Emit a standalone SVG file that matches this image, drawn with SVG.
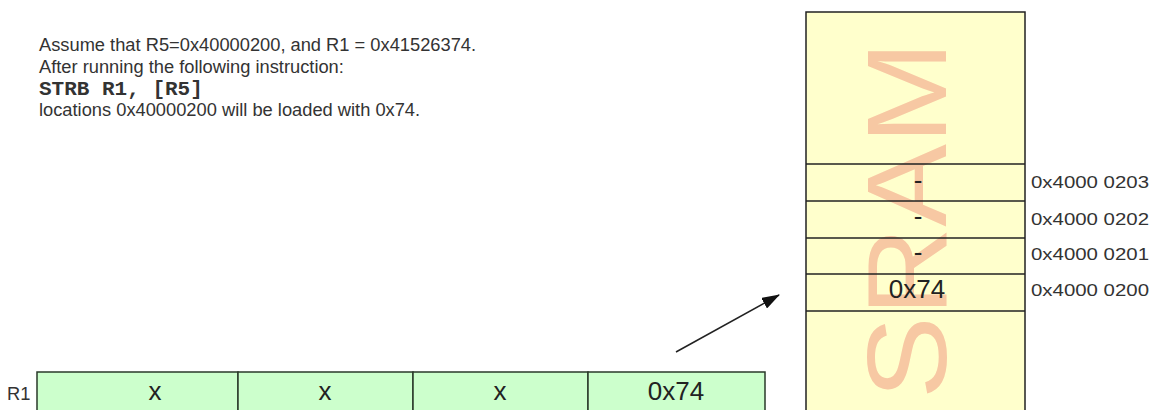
<svg xmlns="http://www.w3.org/2000/svg" width="1153" height="410" viewBox="0 0 1153 410">
  <style>
    .body { font-family: "Liberation Sans", Arial, sans-serif; font-size: 18.3px; fill: #333; }
    .code { font-family: "Liberation Mono", "Courier New", monospace; font-size: 21px; font-weight: bold; fill: #333; }
    .cell { fill: #ffffcc; stroke: #222; stroke-width: 1.5; }
    .row { stroke: #222; stroke-width: 1.5; }
    .addr { font-family: "Liberation Sans", Arial, sans-serif; font-size: 16px; fill: #333; }
    .val { font-family: "Liberation Sans", Arial, sans-serif; font-size: 26px; fill: #222; text-anchor: middle; }
    .reg { fill: #ccffcc; stroke: #2a3a2a; stroke-width: 1.5; }
  </style>
  <defs>
    <marker id="arrow" viewBox="0 0 18 12" refX="17" refY="6" markerWidth="18" markerHeight="12" markerUnits="userSpaceOnUse" orient="auto">
      <path d="M0,0 L18,6 L0,12 z" fill="#111"/>
    </marker>
  </defs>
  <rect width="1153" height="410" fill="#fff"/>

  <!-- explanation text -->
  <g id="caption">
    <text class="body" x="39" y="51">Assume that R5=0x40000200, and R1 = 0x41526374.</text>
    <text class="body" x="39" y="73">After running the following instruction:</text>
    <text class="code" x="39" y="95">STRB R1, [R5]</text>
    <text class="body" x="39" y="116">locations 0x40000200 will be loaded with  0x74.</text>
  </g>

  <!-- SRAM block -->
  <g id="sram">
    <rect class="cell" x="806" y="12" width="219" height="410"/>
    <text transform="translate(946,220) rotate(-90)" text-anchor="middle" font-family="Liberation Sans, Arial, sans-serif" font-size="113" textLength="358" lengthAdjust="spacingAndGlyphs" fill="#f7c8a3">SRAM</text>
    <line class="row" x1="806" y1="164" x2="1025" y2="164"/>
    <line class="row" x1="806" y1="201" x2="1025" y2="201"/>
    <line class="row" x1="806" y1="238" x2="1025" y2="238"/>
    <line class="row" x1="806" y1="274" x2="1025" y2="274"/>
    <line class="row" x1="806" y1="311" x2="1025" y2="311"/>
    <text class="val" x="918" y="189" font-size="20">-</text>
    <text class="val" x="918" y="225" font-size="20">-</text>
    <text class="val" x="918" y="261" font-size="20">-</text>
    <text class="val" x="917" y="298">0x74</text>
  </g>

  <g id="addresses">
    <text class="addr" x="1031" y="188" textLength="118" lengthAdjust="spacingAndGlyphs">0x4000 0203</text>
    <text class="addr" x="1031" y="225" textLength="118" lengthAdjust="spacingAndGlyphs">0x4000 0202</text>
    <text class="addr" x="1031" y="260" textLength="118" lengthAdjust="spacingAndGlyphs">0x4000 0201</text>
    <text class="addr" x="1031" y="296" textLength="118" lengthAdjust="spacingAndGlyphs">0x4000 0200</text>
  </g>

  <!-- register R1 -->
  <g id="r1">
    <text class="body" x="7" y="400" font-size="22">R1</text>
    <rect class="reg" x="37" y="372" width="201" height="50"/>
    <rect class="reg" x="238" y="372" width="175" height="50"/>
    <rect class="reg" x="413" y="372" width="175" height="50"/>
    <rect class="reg" x="588" y="372" width="177" height="50"/>
    <text class="val" x="155" y="400">x</text>
    <text class="val" x="325" y="400">x</text>
    <text class="val" x="500" y="400">x</text>
    <text class="val" x="676" y="400">0x74</text>
  </g>

  <g id="connectors">
    <line x1="676" y1="352" x2="779" y2="295" stroke="#222" stroke-width="1.5" marker-end="url(#arrow)"/>
  </g>
</svg>
